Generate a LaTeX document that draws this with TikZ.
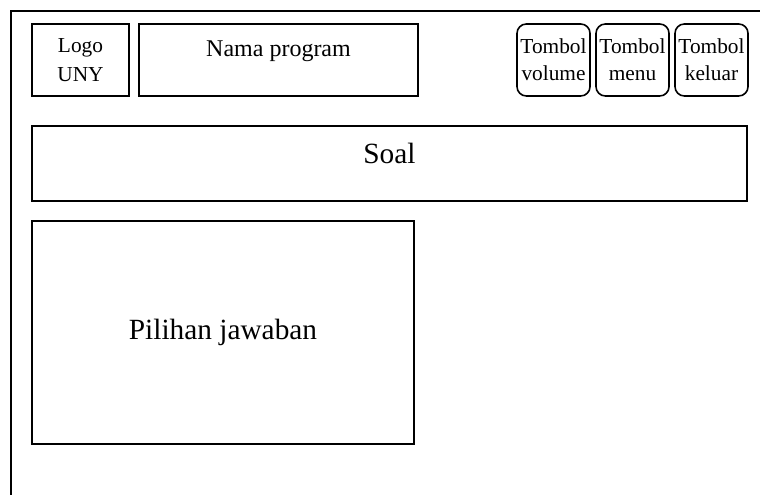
\documentclass[tikz,border=0pt]{standalone}
\usepackage{fontspec}
\setmainfont{Liberation Serif}
\usepackage{tikz}
\usetikzlibrary{positioning}
\tikzstyle{frame} = [line width=1.2pt]
\tikzstyle{panel} = [rectangle, draw=black, line width=1.2pt, inner sep=0pt, outer sep=0pt, text centered]
\tikzstyle{button} = [rectangle, rounded corners=7pt, draw=black, line width=1.2pt, inner sep=0pt, outer sep=0pt, minimum width=54.75pt, minimum height=54pt, align=center, font=\fontsize{16}{20}\selectfont]

\begin{document}
\begin{tikzpicture}
    \useasboundingbox (0,0) rectangle (570pt,-371.25pt);
    \draw [frame] (8.25pt,-371.25pt) |- (570pt,-8.25pt);

    \node (logo) [panel, anchor=north west, minimum width=72.75pt, minimum height=54pt, align=center, font=\fontsize{16}{21.75}\selectfont] at (24pt,-18pt) {Logo\\UNY};
    \node (nama) [panel, right=7.5pt of logo, minimum width=209.25pt, minimum height=54pt, text height=12pt, text depth=16.5pt, font=\fontsize{18}{20}\selectfont] {Nama program};
    \node (volume) [button, right=74.25pt of nama] {Tombol\\volume};
    \node (menu) [button, right=4.5pt of volume] {Tombol\\menu};
    \node (keluar) [button, right=4.5pt of menu] {Tombol\\keluar};
    \node (soal) [panel, below=22.5pt of logo.south west, anchor=north west, minimum width=536.25pt, minimum height=56.25pt, text height=11pt, text depth=11pt, font=\fontsize{22}{24}\selectfont] {Soal};
    \node (pilihan) [panel, below=15pt of soal.south west, anchor=north west, minimum width=286.5pt, minimum height=167.25pt, font=\fontsize{22}{24}\selectfont] {Pilihan jawaban};
\end{tikzpicture}
\end{document}
